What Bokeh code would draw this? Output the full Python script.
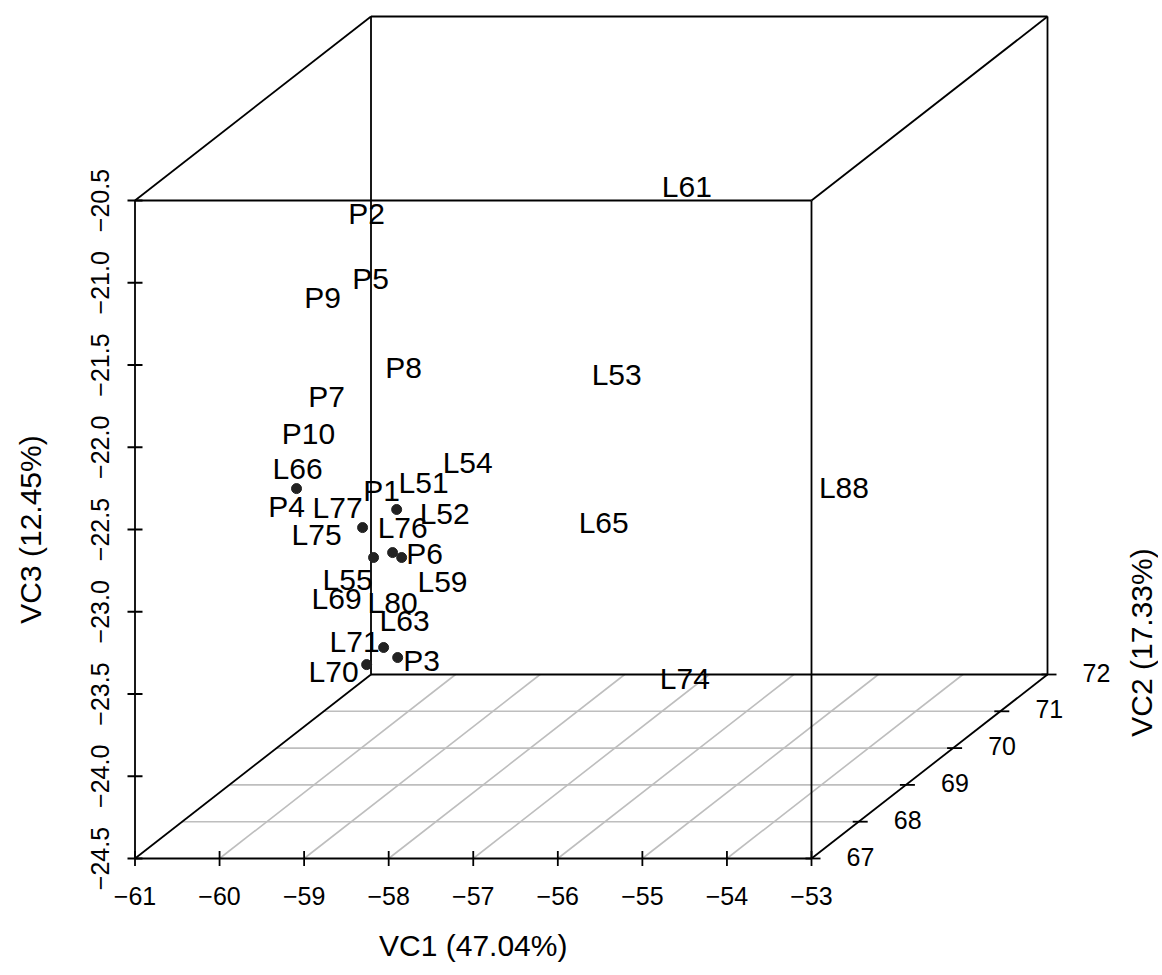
import math
from bokeh.plotting import figure
from bokeh.models import Range1d, ColumnDataSource
from bokeh.core.properties import value
from bokeh.embed import file_html
from bokeh.resources import INLINE

# ---------------- data ----------------
vc1_ticks = [-61, -60, -59, -58, -57, -56, -55, -54, -53]
vc2_ticks = [67, 68, 69, 70, 71, 72]
vc3_ticks = [-24.5, -24.0, -23.5, -23.0, -22.5, -22.0, -21.5, -21.0, -20.5]
vc1_tick_labels = ["\u221261", "\u221260", "\u221259", "\u221258", "\u221257",
                   "\u221256", "\u221255", "\u221254", "\u221253"]
vc2_tick_labels = ["67", "68", "69", "70", "71", "72"]
vc3_tick_labels = ["\u221224.5", "\u221224.0", "\u221223.5", "\u221223.0", "\u221222.5",
                   "\u221222.0", "\u221221.5", "\u221221.0", "\u221220.5"]

x_title = "VC1 (47.04%)"
y_title = "VC2 (17.33%)"
z_title = "VC3 (12.45%)"

labels = ["L61", "P2", "P5", "P9", "P8", "L53", "P7", "P10", "L66", "L54",
          "L51", "P1", "L88", "P4", "L77", "L52", "L65", "L75", "L76", "P6",
          "L55", "L59", "L69", "L80", "L63", "L71", "P3", "L70", "L74"]
lab_vc1 = [-56.707, -59.936, -59.330, -59.340, -59.498, -56.978, -59.293, -59.506, -59.636, -58.182,
           -58.703, -59.200, -54.849, -59.766, -59.163, -58.454, -57.132, -59.411, -58.951, -58.691,
           -59.044, -58.480, -59.174, -58.512, -58.928, -58.961, -58.726, -59.210, -56.731]
lab_vc2 = [71, 70, 69, 68, 70, 70, 68, 68, 68, 69,
           69, 69, 71, 68, 68, 69, 70, 68, 69, 69,
           68, 69, 68, 68, 69, 68, 69, 68, 71]
lab_vc3 = [-21.310, -21.250, -21.421, -21.314, -22.186, -22.229, -21.915, -22.140, -22.353, -22.540,
           -22.661, -22.710, -23.140, -22.584, -22.590, -22.850, -23.128, -22.754, -22.935, -23.093,
           -23.028, -23.263, -23.143, -23.168, -23.500, -23.405, -23.743, -23.587, -24.301]

dot_vc1 = [-59.648, -58.464, -58.867, -58.512, -58.405, -58.737, -58.618, -58.452, -58.819]
dot_vc2 = [68, 68, 68, 68, 68, 68, 68, 68, 68]
dot_vc3 = [-22.475, -22.602, -22.712, -22.864, -22.894, -22.894, -23.441, -23.502, -23.545]

# ---------------- layout (pixels inside the figure) ----------------
W, H = 1158, 970
FRONT_L, FRONT_R = 134.5, 811.0     # px of vc1 min / max on the front face
FRONT_B, FRONT_T = 858.0, 200.0     # px (from top) of vc3 min / max
DEPTH_DX, DEPTH_DY = 236.0, 184.0   # px shift of the full vc2 range

x_min, x_max = vc1_ticks[0], vc1_ticks[-1]
y_min, y_max = vc2_ticks[0], vc2_ticks[-1]
z_min, z_max = vc3_ticks[0], vc3_ticks[-1]

px_per_x = (FRONT_R - FRONT_L) / (x_max - x_min)
px_per_z = (FRONT_B - FRONT_T) / (z_max - z_min)
K1 = DEPTH_DX / (y_max - y_min) / px_per_x
K2 = DEPTH_DY / (y_max - y_min) / px_per_z

xr0 = x_min - FRONT_L / px_per_x
xr1 = xr0 + W / px_per_x
zr1 = z_min + FRONT_B / px_per_z
zr0 = zr1 - H / px_per_z


def proj(v1, v2, v3):
    return v1 + (v2 - y_min) * K1, v3 + (v2 - y_min) * K2


def px_x(sx):
    return xr0 + sx / px_per_x


def px_z(sy):
    return zr1 - sy / px_per_z


FONT = value("Liberation Sans")
TICK_FS = "25px"
LAB_FS = "30px"
TITLE_FS = "30px"

p = figure(width=W, height=H, x_range=Range1d(xr0, xr1), y_range=Range1d(zr0, zr1),
           x_axis_type=None, y_axis_type=None, toolbar_location=None,
           output_backend="svg", min_border=0)
p.outline_line_color = None
p.xgrid.visible = False
p.ygrid.visible = False

# ---- grid on the bottom (vc1 x vc2) plane ----
gx, gy = [], []
for v2 in vc2_ticks[1:-1]:
    a = proj(x_min, v2, z_min)
    b = proj(x_max, v2, z_min)
    gx.append([a[0], b[0]])
    gy.append([a[1], b[1]])
for v1 in vc1_ticks[1:-1]:
    a = proj(v1, y_min, z_min)
    b = proj(v1, y_max, z_min)
    gx.append([a[0], b[0]])
    gy.append([a[1], b[1]])
p.multi_line(gx, gy, line_color="#BEBEBE", line_width=1.6)

# ---- box ----
corners = {}
for i, v1 in enumerate((x_min, x_max)):
    for j, v2 in enumerate((y_min, y_max)):
        for k, v3 in enumerate((z_min, z_max)):
            corners[(i, j, k)] = proj(v1, v2, v3)
edges = []
for a in corners:
    for b in corners:
        if a < b and sum(abs(a[n] - b[n]) for n in range(3)) == 1:
            edges.append((a, b))
bx = [[corners[a][0], corners[b][0]] for a, b in edges]
by = [[corners[a][1], corners[b][1]] for a, b in edges]
p.multi_line(bx, by, line_color="black", line_width=1.8)

# ---- ticks ----
tx, ty = [], []
dz = 7.5 / px_per_z
for v1 in vc1_ticks:
    X, Z = proj(v1, y_min, z_min)
    tx.append([X, X])
    ty.append([Z - dz, Z + dz])
dx = 7.5 / px_per_x
for v3 in vc3_ticks:
    X, Z = proj(x_min, y_min, v3)
    tx.append([X - dx, X + dx])
    ty.append([Z, Z])
for v2 in vc2_ticks:
    X, Z = proj(x_max, v2, z_min)
    tx.append([X - 6 / px_per_x, X + 9 / px_per_x])
    ty.append([Z, Z])
p.multi_line(tx, ty, line_color="black", line_width=1.8)

# ---- tick labels ----
xl = ColumnDataSource(dict(
    x=[proj(v, y_min, z_min)[0] for v in vc1_ticks],
    y=[proj(v, y_min, z_min)[1] - 37 / px_per_z for v in vc1_ticks],
    t=vc1_tick_labels))
p.text("x", "y", text="t", source=xl, text_font=FONT, text_font_size=TICK_FS,
       text_align="center", text_baseline="middle", text_color="black")

zl = ColumnDataSource(dict(
    x=[proj(x_min, y_min, v)[0] - 35 / px_per_x for v in vc3_ticks],
    y=[proj(x_min, y_min, v)[1] for v in vc3_ticks],
    t=vc3_tick_labels))
p.text("x", "y", text="t", source=zl, text_font=FONT, text_font_size=TICK_FS,
       text_align="center", text_baseline="middle", angle=math.pi / 2, text_color="black")

yl = ColumnDataSource(dict(
    x=[proj(x_max, v, z_min)[0] + 49 / px_per_x for v in vc2_ticks],
    y=[proj(x_max, v, z_min)[1] + 2 / px_per_z for v in vc2_ticks],
    t=vc2_tick_labels))
p.text("x", "y", text="t", source=yl, text_font=FONT, text_font_size=TICK_FS,
       text_align="center", text_baseline="middle", text_color="black")

# ---- axis titles ----
p.text([(x_min + x_max) / 2], [px_z(945)], text=[x_title], text_font=FONT,
       text_font_size=TITLE_FS, text_align="center", text_baseline="middle")
p.text([px_x(30)], [(z_min + z_max) / 2], text=[z_title], text_font=FONT,
       text_font_size=TITLE_FS, text_align="center", text_baseline="middle", angle=math.pi / 2)
p.text([px_x(1141)], [px_z(642)], text=[y_title], text_font=FONT,
       text_font_size=TITLE_FS, text_align="center", text_baseline="middle", angle=math.pi / 2)

# ---- points and labels ----
dp = [proj(a, b, c) for a, b, c in zip(dot_vc1, dot_vc2, dot_vc3)]
p.scatter([q[0] for q in dp], [q[1] for q in dp], size=10, color="#222222")

lp = [proj(a, b, c) for a, b, c in zip(lab_vc1, lab_vc2, lab_vc3)]
src = ColumnDataSource(dict(x=[q[0] for q in lp], y=[q[1] for q in lp], t=labels))
p.text("x", "y", text="t", source=src, text_font=FONT, text_font_size=LAB_FS,
       text_align="center", text_baseline="middle", text_color="black")

open("out.html", "w").write(file_html(p, INLINE))
